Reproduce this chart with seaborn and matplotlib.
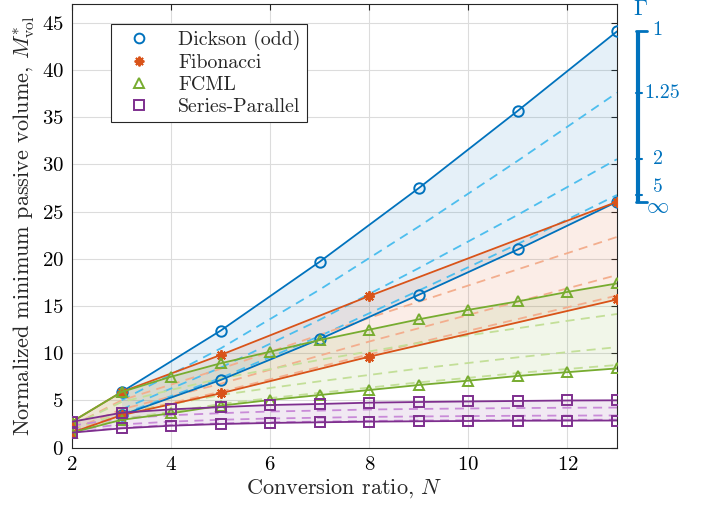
import numpy as np
import pandas as pd
import matplotlib
matplotlib.use("Agg")
import matplotlib.pyplot as plt
import seaborn as sns
from matplotlib.lines import Line2D

# ---------------- data ----------------
N_dickson = [3, 5, 7, 9, 11, 13]
dickson_upper = [5.9, 12.4, 19.7, 27.5, 35.7, 44.1]
dickson_lower = [3.45, 7.17, 11.5, 16.2, 21.0, 26.05]

N_fib = [2, 3, 5, 8, 13]
fib_upper = [2.75, 5.9, 9.82, 16.07, 26.05]
fib_lower = [1.6, 3.45, 5.76, 9.64, 15.7]

N_all = [2, 3, 4, 5, 6, 7, 8, 9, 10, 11, 12, 13]
fcml_upper = [2.75, 5.9, 7.52, 8.94, 10.17, 11.4, 12.5, 13.6, 14.6, 15.5, 16.5, 17.4]
fcml_lower = [1.6, 2.95, 3.64, 4.45, 5.05, 5.58, 6.11, 6.64, 7.1, 7.6, 8.0, 8.4]

sp_upper = [2.75, 3.7, 4.06, 4.3, 4.52, 4.63, 4.77, 4.84, 4.9, 4.95, 5.0, 5.02]
sp_lower = [1.6, 2.05, 2.33, 2.51, 2.62, 2.69, 2.76, 2.8, 2.83, 2.86, 2.87, 2.88]

gamma_levels = [1.25, 2, 5]          # intermediate Gamma (dashed lines)
gamma_labels = ["1", "1.25", "2", "5", r"$\infty$"]

labels = ["Dickson (odd)", "Fibonacci", "FCML", "Series-Parallel"]
colors = ["#0072BD", "#D95319", "#77AC30", "#7E2F8E"]
dash_colors = ["#4DBEEE", "#F3AE8E", "#C3DF98", "#C98BD8"]
markers = ["o", (8, 2, 0), "^", "s"]

# ---------------- style ----------------
sns.set_theme(style="white")
plt.rcParams.update({
    "font.family": "serif",
    "font.serif": ["cmr10", "DejaVu Serif"],
    "mathtext.fontset": "cm",
    "axes.formatter.use_mathtext": True,
    "axes.unicode_minus": False,
})

fig = plt.figure(figsize=(7.10, 5.12), dpi=100)
ax = fig.add_axes([72 / 710, 1 - 447.7 / 512, (617 - 72) / 710, (447.7 - 4) / 512])

groups = [
    (N_dickson, dickson_upper, dickson_lower),
    (N_fib, fib_upper, fib_lower),
    (N_all, fcml_upper, fcml_lower),
    (N_all, sp_upper, sp_lower),
]

# fills
for (n, up, lo), c in zip(groups, colors):
    ax.fill_between(n, lo, up, color=c, alpha=0.1, linewidth=0, zorder=1)

# dashed intermediate lines
for (n, up, lo), dc in zip(groups, dash_colors):
    up = np.asarray(up); lo = np.asarray(lo)
    for g in gamma_levels:
        vals = lo + (up - lo) / g**2
        df = pd.DataFrame({"N": n, "M": vals})
        sns.lineplot(data=df, x="N", y="M", ax=ax, color=dc, lw=1.3,
                     linestyle=(0, (5, 3.5)), zorder=2, legend=False)

# bounding lines with markers
for (n, up, lo), c, m in zip(groups, colors, markers):
    for vals in (up, lo):
        df = pd.DataFrame({"N": n, "M": vals})
        sns.lineplot(data=df, x="N", y="M", ax=ax, color=c, lw=1.3,
                     marker=m, markersize=7.5, markerfacecolor="none",
                     markeredgecolor=c, markeredgewidth=1.4, zorder=3,
                     legend=False)

ax.set_xlim(2, 13)
ax.set_ylim(0, 47)
ax.set_xticks([2, 4, 6, 8, 10, 12])
ax.set_yticks(range(0, 46, 5))
ax.grid(True, color="#DCDCDC", linewidth=0.8)
ax.set_axisbelow(True)
for s in ax.spines.values():
    s.set_color("#262626")
    s.set_linewidth(0.8)
ax.tick_params(direction="in", length=4, width=0.8, top=True, right=True,
               labelsize=15, colors="#262626", pad=6)
for t in ax.get_xticklabels() + ax.get_yticklabels():
    t.set_color("black")
ax.set_xlabel(r"Conversion ratio, $N$", fontsize=16, labelpad=2)
ax.set_ylabel(r"Normalized minimum passive volume, $M^{*}_{\mathrm{vol}}$",
              fontsize=16, labelpad=3)

# legend (markers only)
handles = [Line2D([], [], linestyle="none", marker=m, markersize=7,
                  markerfacecolor="none", markeredgecolor=c, markeredgewidth=1.4)
           for m, c in zip(markers, colors)]
leg = ax.legend(handles, labels, loc="upper left", bbox_to_anchor=(0.071, 0.955),
                borderaxespad=0, fontsize=14.3, frameon=True, fancybox=False,
                framealpha=1, edgecolor="#262626", handletextpad=0.9,
                borderpad=0.3, labelspacing=0.2, handlelength=2.2)
leg.get_frame().set_linewidth(0.8)
leg.set_zorder(10)

# Gamma scale on the right
top_v = dickson_upper[-1]
bot_v = dickson_lower[-1]
gpos = [top_v] + [bot_v + (top_v - bot_v) / g**2 for g in gamma_levels] + [bot_v]
blue = colors[0]
xb, xcap, xtick = 13.42, 13.6, 13.5
ax.plot([xb, xb], [bot_v, top_v], color=blue, lw=3, clip_on=False,
        solid_capstyle="butt", zorder=5)
for v, is_cap in zip(gpos, [True, False, False, False, True]):
    ax.plot([xb - 0.03, xcap if is_cap else xtick], [v, v], color=blue,
            lw=2 if is_cap else 1.5, clip_on=False, zorder=5)
label_x = [13.82, 13.56, 13.82, 13.82, 13.82]
label_ha = ["center", "left", "center", "center", "center"]
offsets = [0.1, 0, 0, 0.8, -0.6]
sizes = [14.5, 14.5, 14.5, 14, 16]
for v, lab, off, lx, ha, fs in zip(gpos, gamma_labels, offsets, label_x,
                                   label_ha, sizes):
    ax.text(lx, v + off, lab, color=blue, fontsize=fs, ha=ha, va="center",
            clip_on=False)
ax.text(xb + 0.06, 46.4, r"$\Gamma$", color=blue, fontsize=16, ha="center",
        va="center", clip_on=False)

fig.savefig("out.png", dpi=100)
